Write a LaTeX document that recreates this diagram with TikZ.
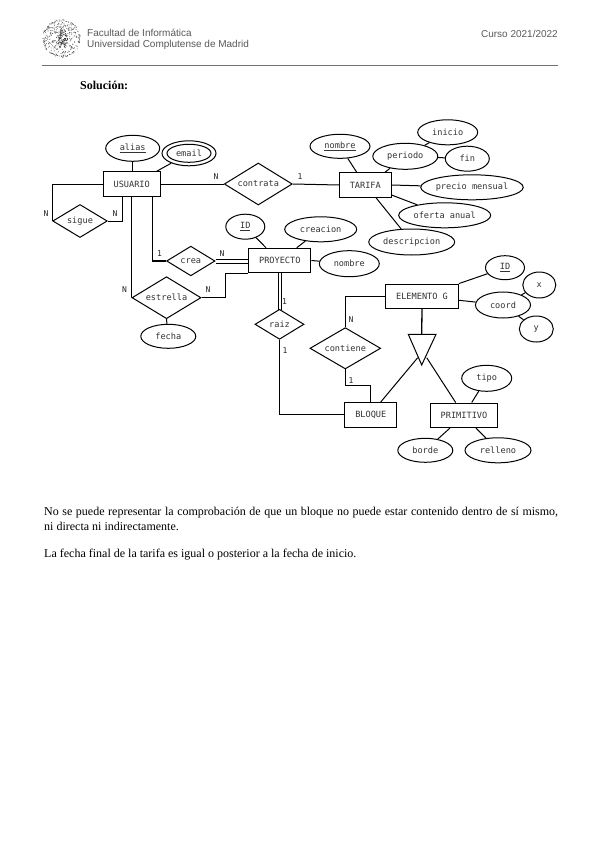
\documentclass[tikz,border=0pt]{standalone}
\usepackage{fontspec}
\usetikzlibrary{shapes.geometric}
\setmainfont{Liberation Serif}
\newfontfamily\hdr{Liberation Sans}
\newfontfamily\erm{DejaVu Sans Mono}
\tikzset{
  er/.style={font=\erm\fontsize{8.6}{9}\selectfont,inner sep=0pt,text=black!80},
  card/.style={font=\erm\fontsize{8}{9}\selectfont,inner sep=0pt,text=black!85},
  entity/.style={draw,line width=1pt,er,minimum width=#1,minimum height=24.5pt},
  attr/.style n args={2}{draw,ellipse,line width=1pt,er,minimum width=#1,minimum height=#2},
  rel/.style n args={2}{draw,diamond,line width=1pt,er,minimum width=#1 pt,minimum height=#2 pt,aspect=1.6},
  link/.style={line width=1pt},
  hdrtext/.style={font=\hdr\fontsize{10}{12}\selectfont,inner sep=0pt,text=black!65,anchor=west},
  body/.style={font=\fontsize{12}{14}\selectfont,inner sep=0pt,anchor=base west},
}
\begin{document}
\begin{tikzpicture}[x=1pt,y=-1pt]
\pgfmathsetseed{4217}
\useasboundingbox (0,0) rectangle (599,848);
\fill[white] (0,0) rectangle (599,848);
% logo
\foreach \i in {1,...,300}{
  \pgfmathsetmacro\ang{rnd*360}
  \pgfmathsetmacro\rad{18.5*sqrt(rnd)}
  \pgfmathsetmacro\sz{0.3+0.3*rnd}
  \fill[black!70] ({61.5+\rad*cos(\ang)},{38.5+\rad*sin(\ang)}) circle (\sz pt);
}
\foreach \i in {1,...,90}{
  \pgfmathsetmacro\ang{rnd*360}
  \pgfmathsetmacro\rad{17.5+1.5*rnd}
  \fill[black!70] ({61.5+\rad*cos(\ang)},{38.5+\rad*sin(\ang)}) circle (0.4pt);
}
\foreach \i in {1,...,70}{
  \pgfmathsetmacro\ang{rnd*360}
  \pgfmathsetmacro\rad{6*sqrt(rnd)}
  \fill[black!85] ({63+0.8*\rad*cos(\ang)},{38+1.5*\rad*sin(\ang)}) circle (0.55pt);
}
\node[hdrtext] (h1) at (87,33.3) {Facultad de Informática};
\node[hdrtext] (h2) at (87,45.3) {Universidad Complutense de Madrid};
\node[hdrtext,anchor=east] (h3) at (558,33.5) {Curso 2021/2022};
\coordinate (ruleL) at (42,65.5);
\coordinate (ruleR) at (558,65.5);
\draw[black!55,line width=1pt] (ruleL) -- (ruleR);
\node[body,font=\bfseries\fontsize{12}{14}\selectfont] (sol) at (80,89.5) {Solución:};
% entities
\node[entity=57pt] (usu) at (131.7,184) {USUARIO};
\node[entity=51.5pt] (tar) at (365.3,185) {TARIFA};
\node[entity=62pt] (pro) at (279.8,260.5) {PROYECTO};
\node[entity=73pt] (ele) at (422,296.3) {ELEMENTO G};
\node[entity=52pt] (blo) at (370.8,414.8) {BLOQUE};
\node[entity=67.5pt] (pri) at (464,415.3) {PRIMITIVO};
% attributes
\node[attr={54pt}{26pt}] (alias) at (132.7,148.3) {\underline{alias}};
\node[attr={54pt}{25pt}] (emailo) at (189,153.3) {};
\node[attr={44pt}{18pt}] (email) at (189,153.3) {email};
\node[attr={60pt}{24pt}] (nomt) at (340,146.3) {\underline{nombre}};
\node[attr={60pt}{25pt}] (ini) at (447.7,132.3) {inicio};
\node[attr={65pt}{26pt}] (per) at (405.3,156.3) {periodo};
\node[attr={44pt}{25pt}] (fin) at (467.3,158.7) {fin};
\node[attr={102pt}{25pt}] (pre) at (472,187.3) {precio mensual};
\node[attr={92pt}{25pt}] (ofe) at (444.7,215.3) {oferta anual};
\node[attr={86pt}{26pt}] (des) at (411.7,242) {descripcion};
\node[attr={39pt}{25pt}] (idp) at (245.3,226.7) {\underline{ID}};
\node[attr={72pt}{25pt}] (cre) at (320.7,229.3) {creacion};
\node[attr={60pt}{26pt}] (nomp) at (349.3,263.7) {nombre};
\node[attr={55pt}{24pt}] (fec) at (168.3,336.3) {fecha};
\node[attr={39pt}{24pt}] (ide) at (505,267.7) {\underline{ID}};
\node[attr={33pt}{26pt}] (x) at (539.3,285) {x};
\node[attr={55pt}{26pt}] (coo) at (503,305) {coord};
\node[attr={34pt}{26pt}] (y) at (536.3,329) {y};
\node[attr={50pt}{26pt}] (tip) at (486.7,378.3) {tipo};
\node[attr={55pt}{24pt}] (bor) at (425.3,450.3) {borde};
\node[attr={66pt}{25pt}] (rel) at (498,450.3) {relleno};
% relationships
\node[rel={68}{42}] (con) at (258.3,184) {contrata};
\node[rel={54.6}{33}] (sig) at (80,221) {sigue};
\node[rel={48.4}{29.7}] (cr) at (190.8,261) {crea};
\node[rel={69}{42}] (est) at (166.5,297.7) {estrella};
\node[rel={49}{30}] (rai) at (279.5,324.3) {raiz};
\node[rel={70.7}{41.3}] (cnt) at (345.3,348.3) {contiene};
% triangle
\coordinate (t1) at (408.3,334.3);
\coordinate (t2) at (436,334.3);
\coordinate (t3) at (421.7,365);
\coordinate (ttop) at (421.7,334.3);
\coordinate (tl) at (417.7,357.7);
\coordinate (tr) at (426.7,357.7);
\draw[line width=1pt,line join=miter] (t1) -- (t2) -- (t3) -- cycle;
% attribute links
\draw[link] (alias) -- (alias |- usu.north);
\draw[link] (emailo) -- ([xshift=25pt]usu.north);
\draw[link] (nomt) -- ([xshift=-8.6pt]tar.north);
\draw[link] (per) -- ([xshift=19.7pt]tar.north);
\draw[link] (per) -- (ini);
\draw[link] (per) -- (fin);
\draw[link] (tar.east) -- (pre);
\draw[link] ([yshift=-10pt]tar.east) -- (ofe);
\draw[link] ([xshift=10.7pt]tar.south) -- (des);
\draw[link] (idp) -- ([xshift=-13.8pt]pro.north);
\draw[link] (cre) -- ([xshift=16.9pt]pro.north);
\draw[link] (pro.east) -- (nomp);
\draw[link] (est.south) -- (fec);
\draw[link] (ele.north east) -- (ide);
\draw[link] ([yshift=-4pt]ele.east) -- (coo);
\draw[link] (coo) -- (x);
\draw[link] (coo) -- (y);
\draw[link] ([xshift=7.7pt]pri.north) -- (tip);
\draw[link] ([xshift=-14pt]pri.south) -- (bor);
\draw[link] ([xshift=12pt]pri.south) -- (rel);
% relationship links
\draw[link] (usu.east) -- (con.west);
\draw[link] (con.east) -- (tar.west);
\draw[link] (usu.west) -| (sig.west);
\draw[link] (sig.east) -| ([xshift=-9.2pt]usu.south);
\draw[link] (usu.south) |- (est.west);
\draw[link,line width=1.2pt] ([xshift=21pt]usu.south) |- (cr.west);
\draw[link] ([yshift=2pt]cr.east) -- ([yshift=2pt]cr.east -| pro.west);
\draw[link] ([yshift=-2pt]cr.east) -- ([yshift=-2pt]cr.east -| pro.west);
\draw[link] (est.east) -| ([xshift=-23pt]pro.south west) -- (pro.south west);
\draw[link] ([xshift=-1.8pt]pro.south) -- ++(0,36.3);
\draw[link] ([xshift=1.8pt]pro.south) -- ++(0,36.3);
\draw[link] (rai.south) |- (blo.west);
\draw[link] (ele.west) -| (cnt.north);
\draw[link] (cnt.south) |- ([yshift=16.3pt]blo.north) -- (blo.north);
\draw[link,line width=1.3pt] (ele.south) -- (ttop);
\draw[link] ([xshift=9.9pt]blo.north) -- (tl);
\draw[link] ([xshift=-8.3pt]pri.north) -- (tr);
% cardinalities
\node[card] (c1) at (216,177) {N};
\node[card] (c2) at (300,177) {1};
\node[card] (c3) at (46,214) {N};
\node[card] (c4) at (115,214) {N};
\node[card] (c5) at (159.5,254) {1};
\node[card] (c6) at (222,254) {N};
\node[card] (c7) at (124.5,290) {N};
\node[card] (c8) at (208,290) {N};
\node[card] (c9) at (284.5,302) {1};
\node[card] (c10) at (285,351) {1};
\node[card] (c11) at (351,320) {N};
\node[card] (c12) at (351,381) {1};
% body text
\node[body] (b1) at (44,515.5) {\makebox[514pt][s]{No se puede representar la comprobación de que un bloque no puede estar contenido dentro de sí mismo,}};
\node[body] (b2) at (44,530.5) {ni directa ni indirectamente.};
\node[body] (b3) at (44,557.7) {La fecha final de la tarifa es igual o posterior a la fecha de inicio.};
\end{tikzpicture}
\end{document}
